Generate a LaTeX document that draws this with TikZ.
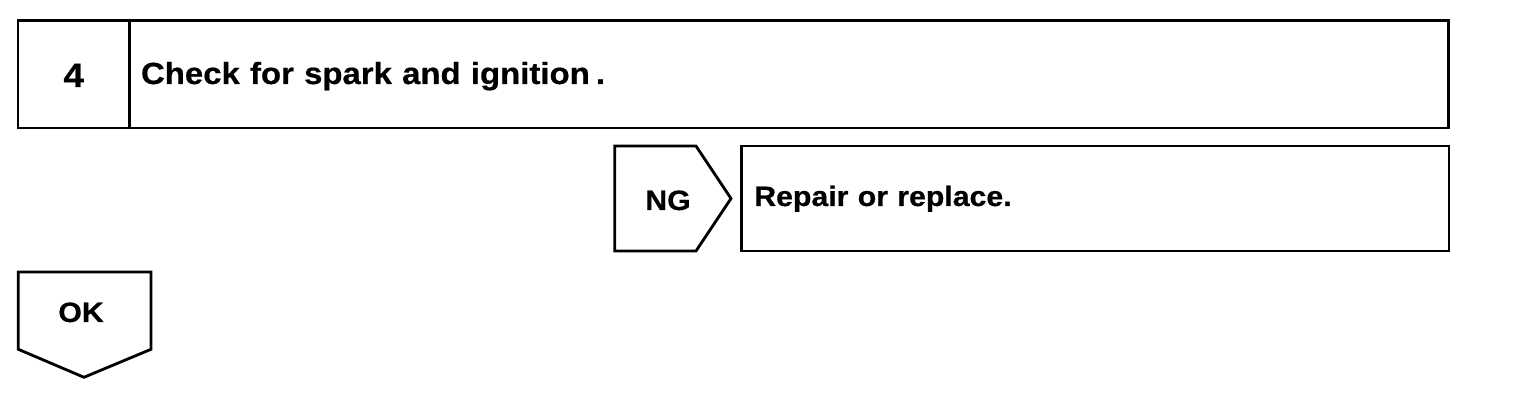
\documentclass[tikz,border=0pt]{standalone}
\usepackage{fontspec}
\setmainfont{Liberation Sans}
\newfontfamily\widefont{Liberation Sans}[FakeStretch=1.08,FakeBold=0.6]
\usetikzlibrary{positioning}
\begin{document}
\begin{tikzpicture}[x=1pt,y=1pt,line width=2.8pt,
    every node/.style={inner sep=0pt,outer sep=0pt},
    box/.style={draw,rectangle,align=left},
    tag/.style={draw,line join=miter},
    big/.style={font=\widefont\bfseries\fontsize{30.5}{36}\selectfont},
    small/.style={font=\widefont\bfseries\fontsize{28}{32}\selectfont}]
  \useasboundingbox (0,0) rectangle (1520,406);
  % step row
  \node[box,minimum width=111.5pt,text height=66.5pt,text depth=41pt,
        font=\widefont\bfseries\fontsize{34}{40}\selectfont] (num) at (73.75,331.75) {4};
  \node[box,big,right=0pt of num,text width=1296pt,inner xsep=11.5pt,
        text height=63.5pt,text depth=44pt] (check) {Check for spark and ignition\hspace{0.2em}.};
  % NG branch
  \draw[tag] (614.7,155) |- (696,260) -- (731,207.5) -- (696,155) -- cycle;
  \node[small,anchor=base] (ng) at (668,196) {NG};
  \node[box,small,anchor=west,text width=681.7pt,inner xsep=13pt,
        text height=60pt,text depth=45pt] (repair) at (741.3,207.5) {Repair or replace.};
  % OK branch
  \draw[tag] (18.3,134) -- (18.3,56.7) -- (84,28.7) -- (151,56.7) -- (151,134) -- cycle;
  \node[small,anchor=base] (ok) at (81,84) {OK};
\end{tikzpicture}
\end{document}
